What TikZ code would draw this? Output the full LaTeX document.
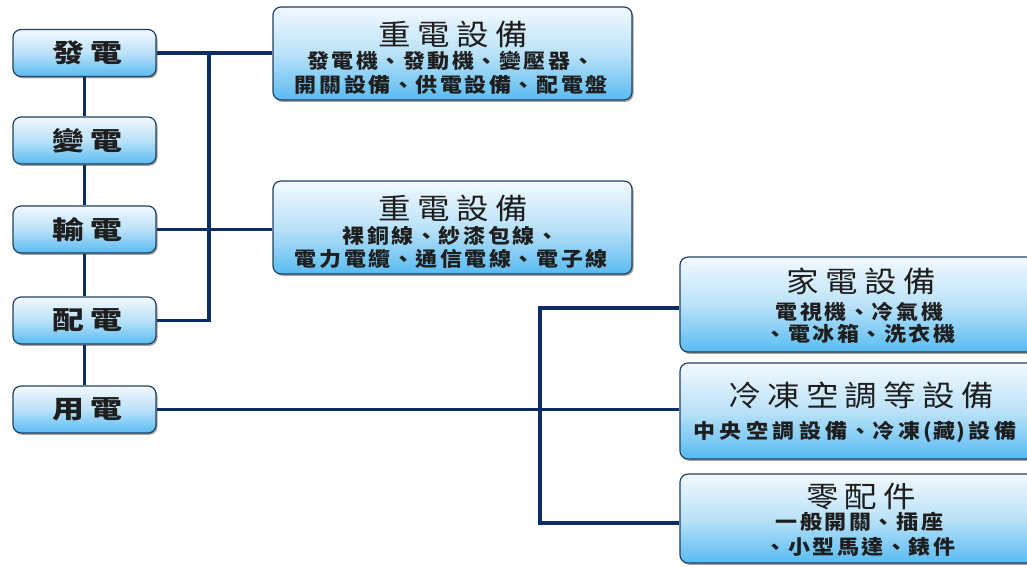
\documentclass[tikz,border=0pt]{standalone}
\usepackage{fontspec}
\usetikzlibrary{shadows,backgrounds}
\newfontfamily\lftfont[FakeStretch=1.25,LetterSpace=22]{Noto Sans CJK TC}
\newfontfamily\ttlfont[FakeStretch=1.12,LetterSpace=22]{Noto Sans CJK TC}
\newfontfamily\subfont[FakeStretch=1.1,LetterSpace=13]{Noto Sans CJK TC}
\newfontfamily\subwfont[FakeStretch=1.1,LetterSpace=22]{Noto Sans CJK TC}
\newcommand\lft[1]{{\lftfont\bfseries\fontsize{25.5}{28}\selectfont #1\kern-5.6pt}}
\newcommand\ttl[1]{{\ttlfont\fontsize{29}{31}\selectfont #1\kern-6.4pt}}
\newcommand\sub[1]{{\subfont\bfseries\fontsize{20}{22}\selectfont #1\kern-2.6pt}}
\newcommand\subw[1]{{\subwfont\bfseries\fontsize{20}{22}\selectfont #1\kern-4.4pt}}
\newcommand\dn{\kern1.5pt、\kern1.5pt}
\definecolor{cTop}{HTML}{F2F9FE}
\definecolor{cMid}{HTML}{BAE2F8}
\definecolor{cBot}{HTML}{58BBF2}
\definecolor{cLine}{HTML}{0B2D62}
\definecolor{cBorder}{HTML}{22405F}
\definecolor{cText}{HTML}{1E1E1E}
\tikzset{
  box/.style={draw=cBorder, line width=1.2pt, rounded corners=8pt,
    top color=cTop, bottom color=cBot, middle color=cMid, inner sep=0pt,
    drop shadow={shadow xshift=1.5pt, shadow yshift=-1.8pt, opacity=0.45, fill=black!80}},
  lbox/.style={box, minimum width=143pt, minimum height=47pt, text=cText},
  rbox/.style={box, minimum width=359pt, minimum height=93pt},
  txt/.style={inner sep=0pt, text=cText},
  conn/.style={draw=cLine, line width=3.5pt}
}
\begin{document}
\begin{tikzpicture}[x=1pt,y=-1pt]
\useasboundingbox (0,0) rectangle (1027,566);
\clip (0,0) rectangle (1027,566);
% left column
\node[lbox] (fa)   at (84.5,53)    {\lft{發電}};
\node[lbox] (bian) at (84.5,140.5) {\lft{變電}};
\node[lbox] (shu)  at (84.5,229.5) {\lft{輸電}};
\node[lbox] (pei)  at (84.5,320.5) {\lft{配電}};
\node[lbox] (yong) at (84.5,409.5) {\lft{用電}};
% right boxes
\node[rbox] (b1) at (452.5,53.5) {};
\node[rbox] (b2) at (452.5,227.5) {};
\node[rbox, minimum height=95pt] (b3) at (859.5,304.5) {};
\node[rbox, minimum height=96pt] (b4) at (859.5,411) {};
\node[rbox, minimum height=89pt] (b5) at (859.5,518.5) {};
% texts
\node[txt] (b1t) at (450,34)  {\ttl{重電設備}};
\node[txt] (b1a) at (450,61) {\sub{發電機\dn 發動機\dn 變壓器\dn}};
\node[txt] (b1b) at (450,85)  {\sub{開關設備\dn 供電設備\dn 配電盤}};
\node[txt] (b2t) at (450,208) {\ttl{重電設備}};
\node[txt] (b2a) at (450,236) {\sub{裸銅線\dn 紗漆包線\dn}};
\node[txt] (b2b) at (450,259) {\sub{電力電纜\dn 通信電線\dn 電子線}};
\node[txt] (b3t) at (858,281) {\ttl{家電設備}};
\node[txt] (b3a) at (858,312) {\sub{電視機\dn 冷氣機}};
\node[txt] (b3b) at (858,334) {\sub{\dn 電冰箱\dn 洗衣機}};
\node[txt] (b4t) at (858,395) {\ttl{冷凍空調等設備}};
\node[txt] (b4a) at (853,432)   {\subw{中央空調設備\dn 冷凍\kern3pt(\kern1pt藏\kern1pt)\kern3pt設備}};
\node[txt] (b5t) at (858,497) {\ttl{零配件}};
\node[txt] (b5a) at (858,522) {\sub{一般開關\dn 插座}};
\node[txt] (b5b) at (858,547) {\sub{\dn 小型馬達\dn 錶件}};
% connectors
\coordinate (j1) at (209,53);
\coordinate (j2) at (540,308);
\coordinate (j3) at (540,523);
\begin{scope}[on background layer]
\draw[conn] (fa.south) -- (bian.north);
\draw[conn] (bian.south) -- (shu.north);
\draw[conn] (shu.south) -- (pei.north);
\draw[conn] (pei.south) -- (yong.north);
\draw[conn] (fa.east) -- (fa.east -| b1.west);
\draw[conn] (j1) |- (pei.east);
\draw[conn] (shu.east) -- (shu.east -| b2.west);
\draw[conn] (yong.east) -- (yong.east -| b4.west);
\draw[conn] (j2 -| b3.west) -- (j2) -- (j3) -- (j3 -| b5.west);
\end{scope}
\end{tikzpicture}
\end{document}
